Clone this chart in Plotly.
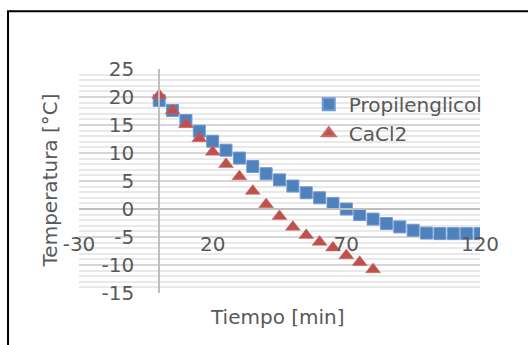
import plotly.graph_objects as go

# Data
time_prop = [0, 5, 10, 15, 20, 25, 30, 35, 40, 45, 50, 55, 60, 65, 70, 75, 80, 85, 90, 95, 100, 105, 110, 115, 120]
temp_prop = [19.4, 17.6, 15.8, 13.9, 12.1, 10.5, 9.1, 7.6, 6.3, 5.2, 4.1, 2.9, 2.0, 1.0, 0.0, -1.0, -1.8, -2.6, -3.2, -3.8, -4.3, -4.4, -4.4, -4.4, -4.4]
time_cacl2 = [0, 5, 10, 15, 20, 25, 30, 35, 40, 45, 50, 55, 60, 65, 70, 75, 80]
temp_cacl2 = [20.3, 17.6, 15.1, 12.6, 10.2, 8.0, 5.8, 3.2, 0.8, -1.3, -3.2, -4.7, -5.9, -6.9, -8.3, -9.5, -10.8]

x_tickvals = [-30, 20, 70, 120]
x_ticktext = ["-30", "20", "70", "120"]
y_tickvals = [-15, -10, -5, 0, 5, 10, 15, 20, 25]
y_ticktext = ["-15", "-10", "-5", "0", "5", "10", "15", "20", "25"]

FONT = "DejaVu Sans"
GRAY = "#595959"

fig = go.Figure()
fig.add_trace(go.Scatter(
    x=time_prop, y=temp_prop, mode="markers", name="Propilenglicol",
    marker=dict(symbol="square", size=12, color="#4F81BD",
                line=dict(color="#6f9bd4", width=1)),
))
fig.add_trace(go.Scatter(
    x=time_cacl2, y=temp_cacl2, mode="markers", name="CaCl2",
    marker=dict(symbol="triangle-up", size=13, color="#C0504D",
                line=dict(color="#c96a67", width=0.5)),
))

fig.update_layout(
    width=528, height=345,
    margin=dict(l=79, r=48, t=69, b=52),
    paper_bgcolor="white", plot_bgcolor="white",
    font=dict(family=FONT, size=20, color=GRAY),
    showlegend=True,
    legend=dict(x=0.573, y=0.93, xanchor="left", yanchor="top",
                bgcolor="rgba(0,0,0,0)", font=dict(size=20, color=GRAY, family=FONT),
                tracegroupgap=0, itemsizing="constant"),
    xaxis=dict(
        range=[-30, 120], anchor="free", position=0.375,
        tickvals=x_tickvals, ticktext=x_ticktext,
        showgrid=False, zeroline=False,
        showline=True, linecolor="#bfbfbf", linewidth=2,
        ticks="", ticklabelstandoff=17,
        tickfont=dict(size=20, color=GRAY, family=FONT),
    ),
    yaxis=dict(
        range=[-15, 25], anchor="free", position=0.2,
        tickvals=y_tickvals, ticktext=y_ticktext,
        showgrid=True, gridcolor="#d6d6d6", gridwidth=1.5,
        minor=dict(dtick=1, showgrid=True, gridcolor="#e9e9e9", gridwidth=1.5),
        zeroline=False,
        showline=True, linecolor="#bfbfbf", linewidth=2,
        ticks="", ticklabelstandoff=20,
        tickfont=dict(size=20, color=GRAY, family=FONT),
    ),
    annotations=[
        dict(text="Temperatura [°C]", xref="paper", yref="paper",
             x=-0.072, y=0.503, xanchor="center", yanchor="middle",
             textangle=-90, showarrow=False,
             font=dict(size=20, color=GRAY, family=FONT)),
        dict(text="Tiempo [min]", xref="paper", yref="paper",
             x=0.496, y=-0.105, xanchor="center", yanchor="middle",
             showarrow=False, font=dict(size=20, color=GRAY, family=FONT)),
    ],
    shapes=[
        dict(type="rect", xref="paper", yref="paper",
             x0=-0.177, x1=1.3, y0=-0.4, y1=1.2576,
             line=dict(color="black", width=2), fillcolor="rgba(0,0,0,0)",
             layer="below"),
    ],
)

fig.write_html("out.html")
